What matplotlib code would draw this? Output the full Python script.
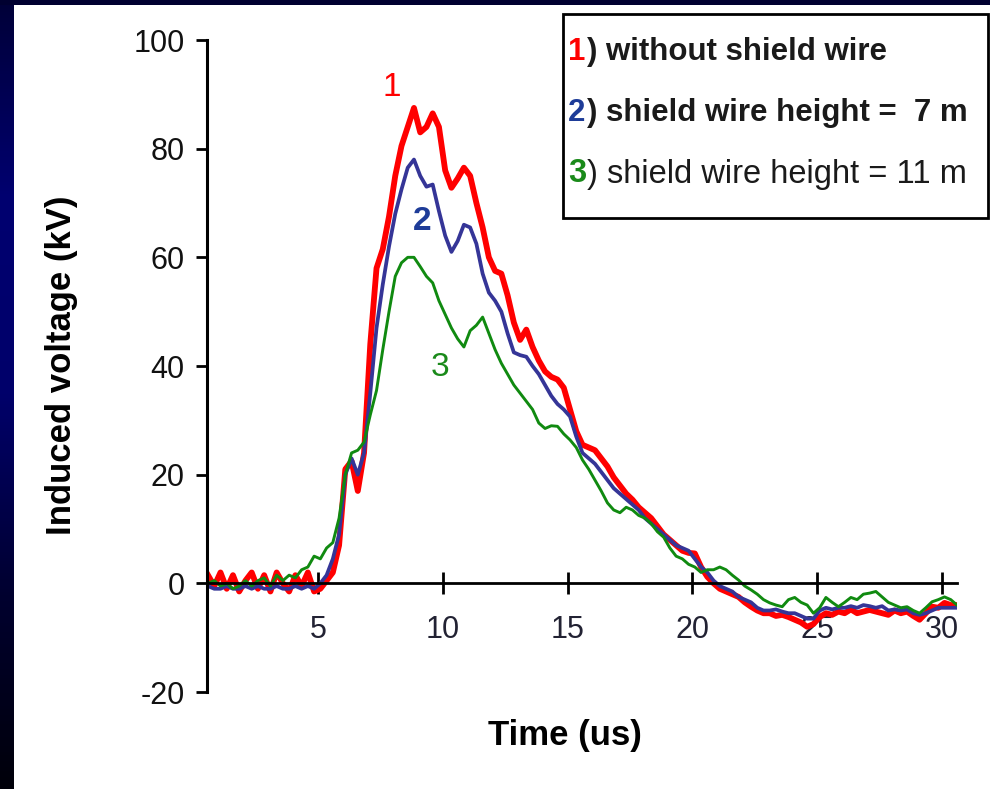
import numpy as np
import matplotlib
matplotlib.use("Agg")
import matplotlib.pyplot as plt
from matplotlib.patches import Rectangle
from matplotlib.colors import LinearSegmentedColormap

# sample times (us), 0.25 us apart
time_us = np.arange(121) * 0.25 + 0.6

# 1) without shield wire
v_no_shield = [
    1.5, -0.5, 2, -1, 1.5, -1.5, 0.5, 2, -1, 1.5,
    -1.5, 2, 0, -1.5, 1.5, -0.5, 2, -1.5, -1, 0.5,
    2, 7, 21, 22.5, 17, 24, 44, 58, 61.5, 67.5,
    75, 80.5, 84, 87.5, 83, 84, 86.5, 84, 76, 72.8,
    74.5, 76.5, 75, 70, 65.5, 60, 57.5, 57, 53, 48,
    44.8, 46.7, 43.5, 41, 39, 38, 37.5, 36, 32, 28,
    25.5, 25, 24.5, 23, 21.5, 19.5, 18, 16.5, 15.4, 14,
    13, 12, 10.5, 9, 8, 7, 6, 5.6, 5.5, 3,
    1.2, 0, -1, -1.5, -2, -2.5, -3.5, -4.3, -5, -5.5,
    -5.5, -6, -5.8, -6.2, -6.7, -7.2, -8, -7.5, -6.2, -5.5,
    -5.8, -5.2, -5.5, -4.8, -5.5, -5.2, -4.9, -5.2, -5.5, -5.8,
    -5, -5.5, -5.2, -6, -6.7, -5.5, -4.3, -4.5, -3.6, -4,
    -4,
]

# 2) shield wire height = 7 m
v_shield_7m = [
    -0.5, -1, -1, -0.5, -1, -1, -0.5, -1, -0.5, -1,
    -1, -0.5, -1, -1, -0.5, -1, -0.5, -1, 0, 1.5,
    4.5, 9, 20, 23, 20, 24, 35, 47, 55, 62,
    68, 72.5, 76.5, 78, 75, 73, 73.4, 68.5, 64, 61,
    63, 66, 65.5, 62.5, 57, 53.5, 52, 50, 46, 42.5,
    42, 41.7, 40, 38.5, 36.5, 34.5, 33, 32, 30.7, 27,
    24, 23, 22, 20.5, 19, 17.5, 16.5, 15.5, 14.5, 13.5,
    12, 11, 10, 9, 8, 7, 6.5, 6, 4.5, 3,
    2, 0.5, -0.5, -1, -1.5, -2.5, -3, -3.5, -4.5, -5,
    -5, -4.8, -5.2, -5.5, -5.5, -6, -6.5, -6.5, -5, -4.5,
    -4.8, -4.5, -4.5, -4.2, -4.5, -4, -4.2, -4.5, -4.2, -5,
    -4.8, -5, -4.8, -5.5, -5.8, -5.5, -5, -4.5, -4.5, -4.5,
    -4.5,
]

# 3) shield wire height = 11 m
v_shield_11m = [
    0, 0.5, -0.5, 0, -1, -0.5, 0.5, -0.5, 0.5, 1,
    -0.5, 1.5, 0.5, 1.5, 1, 2.5, 3, 5, 4.5, 6.5,
    7.5, 12, 20, 24, 24.5, 26, 31, 35.5, 43, 50,
    56.5, 59, 60, 60, 58.3, 56.5, 55.3, 52, 49.5, 47,
    45, 43.5, 46.5, 47.5, 49, 46, 43, 40.5, 38.5, 36.5,
    35, 33.5, 32, 29.5, 28.5, 29, 28.9, 27.5, 26.4, 25,
    22.7, 21, 19, 17, 14.8, 13.5, 13, 14, 13.5, 12.5,
    12, 11, 9.5, 8.5, 6.5, 5, 4.5, 3.5, 3, 2,
    2.5, 2.5, 3, 2.5, 1.5, 0.6, -0.5, -1.2, -2, -3,
    -3.6, -4, -4.3, -3, -2.6, -3.5, -4, -5.5, -4.5, -2.6,
    -3.5, -4.3, -3.5, -2.6, -3, -2, -1.8, -1.5, -2.5, -3.5,
    -4, -4.5, -4.3, -5, -5.5, -4.5, -3.4, -3, -2.5, -3,
    -4,
]

x_ticks = [5, 10, 15, 20, 25, 30]
y_ticks = [-20, 0, 20, 40, 60, 80, 100]

legend_numbers = ["1", "2", "3"]
legend_texts = [") without shield wire", ") shield wire height =  7 m", ") shield wire height = 11 m"]

RED = "#ff0000"
BLUE = "#353597"
GREEN = "#108a10"
NUM_COLORS = [RED, "#1e3c98", "#1a8a1a"]

plt.rcParams["font.family"] = ["Liberation Sans", "DejaVu Sans"]
plt.rcParams["axes.unicode_minus"] = False

W, H = 990, 789
fig = plt.figure(figsize=(W / 100, H / 100), dpi=100, facecolor="white")


def fx(px):
    return px / W


def fy(py):
    return 1 - py / H


# dark slide frame on the left and top
navy = LinearSegmentedColormap.from_list(
    "navy", ["#000038", "#000070", "#00006a", "#000030", "#00000a"])
strip = fig.add_axes([0, 0, fx(14), 1])
strip.imshow(np.linspace(0, 1, 256).reshape(-1, 1), aspect="auto", cmap=navy)
strip.axis("off")
fig.patches.append(Rectangle((0, fy(5)), 1, 5 / H, transform=fig.transFigure,
                             facecolor="#000030", edgecolor="none"))

ax = fig.add_axes([fx(207), fy(692), fx(750), 652 / H])
ax.plot(time_us, v_no_shield, color=RED, lw=4.2)
ax.plot(time_us, v_shield_7m, color=BLUE, lw=2.7)
ax.plot(time_us, v_shield_11m, color=GREEN, lw=2.1)

ax.set_xlim(0.56, 30.6)
ax.set_ylim(-20, 100)
ax.set_facecolor("none")
for side in ["top", "right"]:
    ax.spines[side].set_visible(False)
ax.spines["bottom"].set_position(("data", 0))
ax.spines["left"].set_linewidth(2.2)
ax.spines["bottom"].set_linewidth(2.0)

ax.set_xticks(x_ticks)
ax.set_yticks(y_ticks)
ax.tick_params(axis="x", direction="inout", length=16, width=2.0, pad=15,
               labelsize=22, labelcolor="#222233")
ax.tick_params(axis="y", direction="out", length=8, width=2.0, pad=8,
               labelsize=22, labelcolor="#111111")

# curve numbers next to the traces
ax.text(7.97, 91.3, "1", color=RED, fontsize=24, ha="center", va="center")
ax.text(9.17, 66.6, "2", color="#1e3c98", fontsize=24, fontweight="bold",
        ha="center", va="center")
ax.text(9.9, 39.7, "3", color="#1a8a1a", fontsize=24, ha="center", va="center")

fig.text(fx(565), fy(736), "Time (us)", fontsize=25, fontweight="bold",
         ha="center", va="center")
fig.text(fx(62), fy(365), "Induced voltage (kV)", fontsize=25, fontweight="bold",
         rotation=90, ha="center", va="center")

# legend box
fig.patches.append(Rectangle((fx(563), fy(218)), fx(425), 204 / H,
                             transform=fig.transFigure, facecolor="white",
                             edgecolor="black", lw=2.0))
weights = ["bold", "bold", "normal"]
sizes = [22.5, 22.5, 23.5]
for i, (num, txt) in enumerate(zip(legend_numbers, legend_texts)):
    yc = fy(52 + 61 * i)
    fig.text(fx(568), yc, num, color=NUM_COLORS[i], fontsize=sizes[i],
             fontweight="bold", ha="left", va="center")
    fig.text(fx(587), yc, txt, color="#1a1a1a", fontsize=sizes[i],
             fontweight=weights[i], ha="left", va="center")

fig.savefig("out.png", dpi=100, facecolor="white")
